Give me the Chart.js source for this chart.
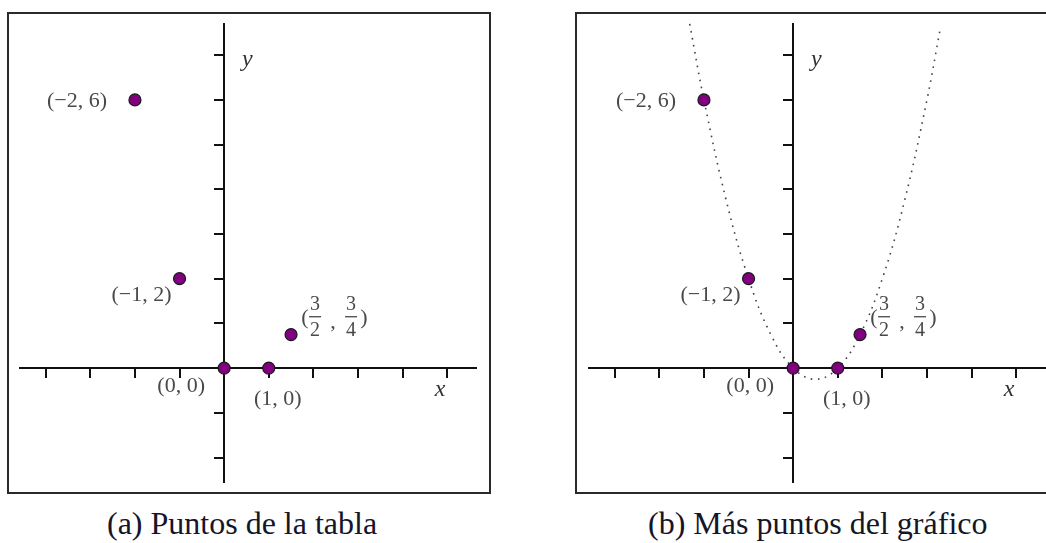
<!DOCTYPE html>
<html>
<head>
<meta charset="utf-8">
<script src="https://cdn.jsdelivr.net/npm/chart.js@4"></script>
<style>
  body { margin: 0; width: 1046px; height: 543px; overflow: hidden; background: #fff; position: relative; }
  .caja { position: absolute; top: 12px; width: 484px; height: 482px; border: 2px solid #2a2a2a; box-sizing: border-box; }
  canvas { position: absolute; top: 23px; }
  .pie { position: absolute; top: 507px; font: 32px 'Liberation Serif', serif; line-height: 1; color: #15152a; white-space: nowrap; }
</style>
</head>
<body>
<div class="caja" style="left:7px"></div>
<div class="caja" style="left:575px"></div>
<canvas id="chartA" width="458" height="460" style="left:19px"></canvas>
<canvas id="chartB" width="458" height="460" style="left:588px"></canvas>
<div class="pie" style="left:107px">(a) Puntos de la tabla</div>
<div class="pie" style="left:648px">(b) Más puntos del gráfico</div>

<script>
// puntos de la tabla
var puntosX = [-2, -1, 0, 1, 1.5];
var puntosY = [6, 2, 0, 0, 0.75];
var etiquetas = ['(\u22122, 6)', '(\u22121, 2)', '(0, 0)', '(1, 0)', ''];
var fraccion = [['3', '2'], ['3', '4']];   // etiqueta del ultimo punto

// curva punteada (b)
var curvaX = [-2.32, -2, -1.5, -1, -0.5, 0, 0.5, 1, 1.5, 2, 2.5, 3, 3.3];
var curvaY = [7.7, 6, 3.75, 2, 0.75, 0, -0.25, 0, 0.75, 2, 3.75, 6, 7.6];

// rango de los ejes
var ejeX = [-4.6, 5.67];
var ejeY = [-2.57, 7.72];

// desplazamiento de cada etiqueta respecto a su punto (px)
var desplaz = [[-58, 1], [-38, 17], [-43, 18], [9, 31]];

function pares(xs, ys) {
  var out = [];
  for (var i = 0; i < xs.length; i++) {
    out.push({ x: xs[i], y: ys[i] });
  }
  return out;
}

var etiquetasPlugin = {
  id: 'etiquetas',
  afterDatasetsDraw: function(chart) {
    var ctx = chart.ctx;
    var sx = chart.scales.x;
    var sy = chart.scales.y;
    ctx.save();
    ctx.fillStyle = '#4a4a4a';
    ctx.textAlign = 'center';
    ctx.textBaseline = 'middle';
    ctx.font = "22px 'Liberation Serif'";

    for (var i = 0; i < desplaz.length; i++) {
      var px = sx.getPixelForValue(puntosX[i]);
      var py = sy.getPixelForValue(puntosY[i]);
      ctx.fillText(etiquetas[i], px + desplaz[i][0], py + desplaz[i][1]);
    }

    // (3/2, 3/4)
    var fx = sx.getPixelForValue(puntosX[4]);
    var fy = sy.getPixelForValue(puntosY[4]);
    ctx.fillText('(', fx + 14, fy - 16);
    ctx.fillText(')', fx + 73, fy - 16);
    ctx.fillText(',', fx + 42, fy - 12);
    ctx.font = "20px 'Liberation Serif'";
    var cols = [24, 60];
    for (var k = 0; k < fraccion.length; k++) {
      var cx = fx + cols[k];
      ctx.fillText(fraccion[k][0], cx, fy - 30);
      ctx.fillText(fraccion[k][1], cx, fy - 4);
      ctx.fillRect(cx - 6, fy - 18.5, 12, 1.3);
    }

    // nombres de los ejes
    ctx.fillStyle = '#333';
    ctx.font = "italic 24px 'Liberation Serif'";
    ctx.fillText('y', sx.getPixelForValue(0.52), sy.getPixelForValue(6.89));
    ctx.fillText('x', sx.getPixelForValue(4.84), sy.getPixelForValue(-0.49));
    ctx.restore();
  }
};

function ejes() {
  var comun = {
    type: 'linear',
    ticks: { display: false, stepSize: 1, includeBounds: false },
    grid: { drawOnChartArea: false, drawTicks: true, tickLength: 9, color: '#111', lineWidth: 2 },
    border: { display: true, color: '#111', width: 2 }
  };
  return {
    x: Object.assign({}, comun, { min: ejeX[0], max: ejeX[1], position: { y: 0 } }),
    y: Object.assign({}, comun, { min: ejeY[0], max: ejeY[1], position: { x: 0 } })
  };
}

var datosPuntos = {
  type: 'scatter',
  data: pares(puntosX, puntosY),
  pointRadius: 6,
  pointHoverRadius: 6,
  backgroundColor: '#800080',
  borderColor: '#1a1a1a',
  borderWidth: 1.2
};

function crearChart(id, datasets) {
  var ctx = document.getElementById(id).getContext('2d');
  return new Chart(ctx, {
    type: 'scatter',
    data: { datasets: datasets },
    options: {
      responsive: false,
      animation: false,
      layout: { padding: 0, autoPadding: false },
      plugins: { legend: { display: false }, tooltip: { enabled: false } },
      scales: ejes()
    },
    plugins: [etiquetasPlugin]
  });
}

crearChart('chartA', [datosPuntos]);

crearChart('chartB', [
  datosPuntos,
  {
    type: 'line',
    data: pares(curvaX, curvaY),
    showLine: true,
    pointRadius: 0,
    borderColor: '#444',
    borderWidth: 1.6,
    borderDash: [1.6, 5.5],
    tension: 0.4,
    fill: false
  }
]);
</script>
</body>
</html>
